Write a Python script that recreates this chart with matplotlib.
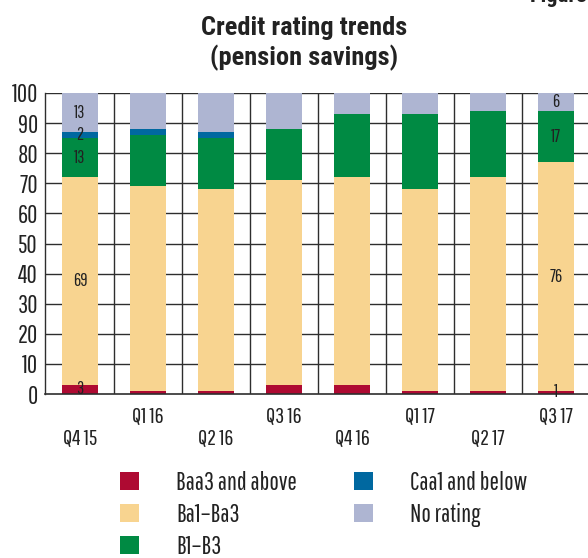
import matplotlib
matplotlib.use("Agg")
import matplotlib.pyplot as plt
import numpy as np
from matplotlib.patches import Patch

BODY = ['Pathway Gothic One', 'DejaVu Sans']
TITLE = ['Roboto Condensed', 'DejaVu Sans']
plt.rcParams['font.family'] = BODY

quarters = ["Q4 15", "Q1 16", "Q2 16", "Q3 16", "Q4 16", "Q1 17", "Q2 17", "Q3 17"]
series_names = ["Baa3 and above", "Ba1\u2013Ba3", "B1\u2013B3", "Caa1 and below", "No rating"]
baa3_above = [3, 1, 1, 3, 3, 1, 1, 1]
ba1_ba3 = [69, 68, 67, 68, 69, 67, 71, 76]
b1_b3 = [13, 17, 17, 17, 21, 25, 22, 17]
caa1_below = [2, 2, 2, 0, 0, 0, 0, 0]
no_rating = [13, 12, 13, 12, 7, 7, 6, 6]
labelled_bars = [0, 7]

colors = ["#AE0A32", "#F8D490", "#008A43", "#0068A0", "#AEB5D2"]
series = [baa3_above, ba1_ba3, b1_b3, caa1_below, no_rating]

W, H = 588, 558
fig = plt.figure(figsize=(W / 100, H / 100), dpi=100)
left_px, right_px, bottom_px, top_px = 45, 590, 394, 93
ax = fig.add_axes([left_px / W, 1 - bottom_px / H, (right_px - left_px) / W, (bottom_px - top_px) / H])

x = np.arange(len(quarters))
ax.set_xlim(-0.515, 7.5)
ax.set_ylim(0, 100)

gridc = "#2e2e2e"
for yv in range(10, 101, 10):
    ax.axhline(yv, color=gridc, lw=1.0, zorder=0)
for xv in np.arange(0.5, len(quarters) - 0.5, 1.0):
    ax.axvline(xv, color=gridc, lw=1.0, zorder=0)

bottom = np.zeros(len(quarters))
for vals, col in zip(series, colors):
    vals = np.array(vals, dtype=float)
    ax.bar(x, vals, width=0.53, bottom=bottom, color=col, edgecolor='none', zorder=2)
    for i in labelled_bars:
        if vals[i] > 0:
            ax.text(x[i], bottom[i] + vals[i] / 2, f"{int(vals[i])}", ha='center', va='center',
                    fontsize=13, color='#222222', zorder=3)
    bottom += vals

for s in ['top', 'right']:
    ax.spines[s].set_visible(False)
ax.spines['left'].set_color(gridc)
ax.spines['bottom'].set_color(gridc)
ax.spines['left'].set_linewidth(1.0)
ax.spines['bottom'].set_linewidth(1.2)

ax.set_yticks(range(0, 101, 10))
ax.tick_params(axis='y', length=0, pad=5, labelsize=18, labelcolor='#222222')
ax.set_xticks(x)
ax.set_xticklabels(quarters)
ax.tick_params(axis='x', length=0, labelsize=16, labelcolor='#222222')
for i, t in enumerate(ax.xaxis.get_major_ticks()):
    t.set_pad(9 if i % 2 == 1 else 24.5)

fig.text(304 / W, 1 - 35 / H, "Credit rating trends", ha='center', va='baseline',
         fontsize=19, fontweight='bold', color='#222222', family=TITLE)
fig.text(304 / W, 1 - 65 / H, "(pension savings)", ha='center', va='baseline',
         fontsize=19, fontweight='bold', color='#222222', family=TITLE)
fig.text(530 / W, 1 - 2 / H, "Figure 1", ha='left', va='baseline',
         fontsize=16, fontweight='bold', color='#222222', family=TITLE)

handles = [Patch(facecolor=c, edgecolor='none') for c in colors]
common = dict(frameon=False, fontsize=18, handlelength=0.75, handleheight=0.75,
              handletextpad=1.5, labelspacing=0.32, borderpad=0, borderaxespad=0,
              loc='upper left', labelcolor='#222222')
fig.legend(handles[:3], series_names[:3], bbox_to_anchor=(120 / W, 1 - 471 / H), **common)
fig.legend(handles[3:], series_names[3:], bbox_to_anchor=(354 / W, 1 - 471 / H), **common)

fig.savefig("out.png", dpi=100)
